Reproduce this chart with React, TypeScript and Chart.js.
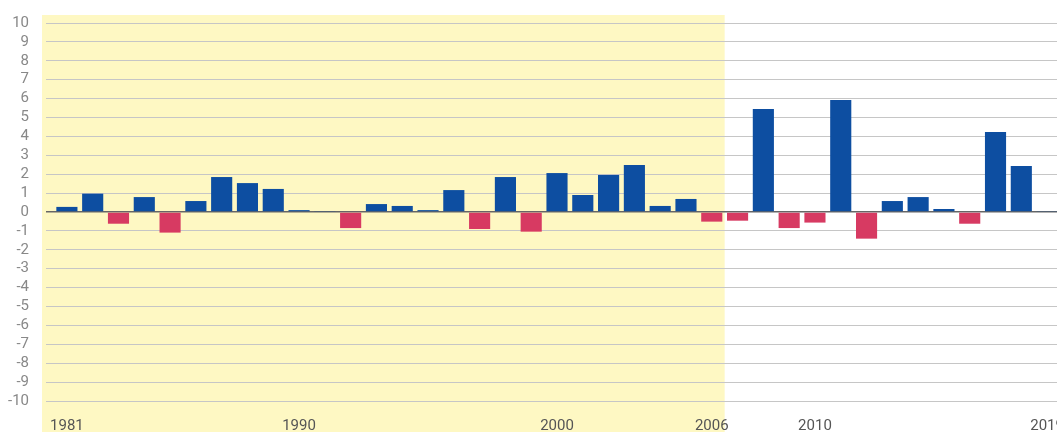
import React, { useEffect, useRef } from "react";
import { Chart, registerables } from "chart.js";

Chart.register(...registerables);

const years: string[] = [
  "1981","1982","1983","1984","1985","1986","1987","1988","1989","1990",
  "1991","1992","1993","1994","1995","1996","1997","1998","1999","2000",
  "2001","2002","2003","2004","2005","2006","2007","2008","2009","2010",
  "2011","2012","2013","2014","2015","2016","2017","2018","2019",
];

const values: number[] = [
  0.27, 0.97, -0.62, 0.79, -1.09, 0.58, 1.85, 1.53, 1.22, 0.1,
  0.05, -0.85, 0.42, 0.32, 0.1, 1.16, -0.9, 1.85, -1.04, 2.06,
  0.9, 1.96, 2.49, 0.32, 0.69, -0.51, -0.46, 5.45, -0.85, -0.56,
  5.93, -1.41, 0.58, 0.79, 0.16, -0.62, 4.23, 2.43, 0.05,
];

const shownTickLabels: string[] = ["1981", "1990", "2000", "2006", "2010", "2019"];

const highlightStart = "1981";
const highlightEnd = "2006";

const yMin = -10;
const yMax = 10;

const BLUE = "#0d4ea1";
const RED = "#d73a62";
const YELLOW = "#fef8c3";

const highlightPlugin = {
  id: "highlight",
  beforeDraw(chart: any) {
    const { ctx, chartArea, scales } = chart;
    const x = scales.x;
    const i0 = years.indexOf(highlightStart);
    const i1 = years.indexOf(highlightEnd);
    const left = x.getPixelForValue(i0) - x.width / years.length / 2 - 12;
    const right = (x.getPixelForValue(i1) + x.getPixelForValue(i1 + 1)) / 2;
    ctx.save();
    ctx.fillStyle = YELLOW;
    ctx.fillRect(left, chartArea.top - 8, right - left, chart.height - chartArea.top + 8);
    ctx.restore();
  },
};

export default function App() {
  const ref = useRef<HTMLCanvasElement | null>(null);
  useEffect(() => {
    if (!ref.current) return;
    const chart = new Chart(ref.current, {
      type: "bar",
      data: {
        labels: years,
        datasets: [
          {
            data: values,
            backgroundColor: values.map((v) => (v >= 0 ? BLUE : RED)),
            barPercentage: 0.9,
            categoryPercentage: 0.91,
          },
        ],
      },
      plugins: [highlightPlugin],
      options: {
        animation: false,
        responsive: false,
        maintainAspectRatio: false,
        layout: { padding: { top: 23, right: 0, left: 0, bottom: 0 } },
        plugins: { legend: { display: false }, tooltip: { enabled: false } },
        scales: {
          x: {
            grid: { display: false, drawTicks: false },
            border: { display: false },
            ticks: {
              autoSkip: false,
              maxRotation: 0,
              padding: 16,
              color: "#555",
              font: { family: "Roboto", size: 15 },
              callback: (_v: any, i: number) =>
                shownTickLabels.includes(years[i]) ? years[i] : "",
            },
            afterFit: (s: any) => {
              s.height = 31;
              s.paddingLeft = 0;
              s.paddingRight = 0;
            },
          },
          y: {
            min: yMin,
            max: yMax,
            grid: {
              color: (c: any) => (c.tick && c.tick.value === 0 ? "#666" : "#c6c6c6"),
              lineWidth: (c: any) => (c.tick && c.tick.value === 0 ? 1.5 : 1),
              tickLength: 8,
            },
            border: { display: false },
            ticks: {
              stepSize: 1,
              autoSkip: false,
              padding: 17,
              color: "#888",
              font: { family: "Roboto", size: 15 },
            },
            afterFit: (s: any) => {
              s.width = 54;
              s.paddingTop = 0;
              s.paddingBottom = 0;
            },
          },
        },
      },
    });
    return () => chart.destroy();
  }, []);
  return (
    <div style={{ position: "fixed", left: 0, top: 0, width: 1060, height: 432, overflow: "hidden" }}>
      <canvas ref={ref} width={1060} height={432} style={{ display: "block" }} />
    </div>
  );
}
